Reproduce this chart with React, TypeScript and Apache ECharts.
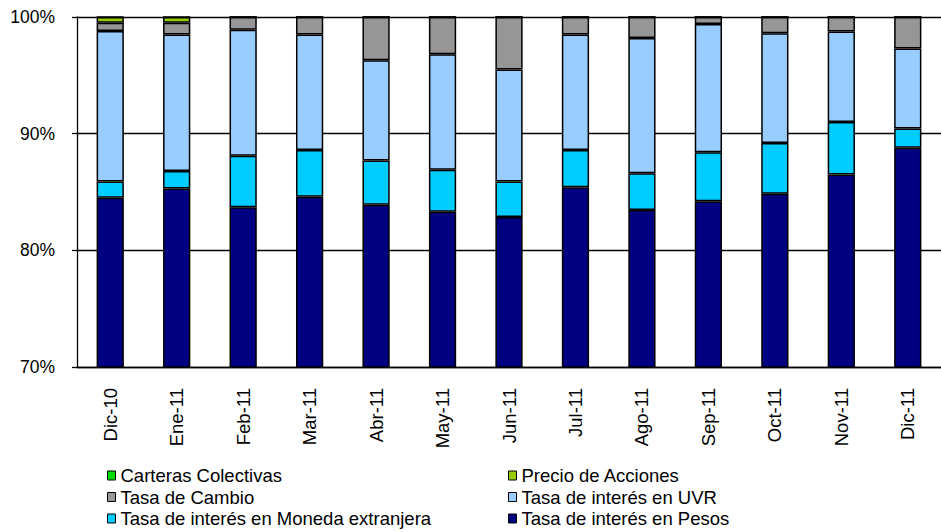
import React, { useEffect, useRef } from "react";
import * as echarts from "echarts";

const categories = ["Dic-10", "Ene-11", "Feb-11", "Mar-11", "Abr-11", "May-11", "Jun-11", "Jul-11", "Ago-11", "Sep-11", "Oct-11", "Nov-11", "Dic-11"];
const pesos = [84.5, 85.3, 83.7, 84.6, 83.9, 83.3, 82.85, 85.4, 83.45, 84.2, 84.85, 86.5, 88.8];
const monedaExt = [1.4, 1.5, 4.4, 4.0, 3.8, 3.6, 3.05, 3.2, 3.15, 4.2, 4.35, 4.5, 1.65];
const uvr = [12.9, 11.7, 10.8, 9.9, 8.6, 9.9, 9.6, 9.9, 11.6, 11.0, 9.4, 7.75, 6.85];
const cambio = [0.7, 1.0, 1.1, 1.5, 3.7, 3.2, 4.5, 1.5, 1.8, 0.6, 1.4, 1.25, 2.7];
const acciones = [0.5, 0.5, 0, 0, 0, 0, 0, 0, 0, 0, 0, 0, 0];
const carteras = [0, 0, 0, 0, 0, 0, 0, 0, 0, 0, 0, 0, 0];
const yTicks = [70, 80, 90, 100];

const FONT = "'Liberation Sans', Arial, sans-serif";

export default function App() {
  const ref = useRef<HTMLDivElement>(null);
  useEffect(() => {
    if (!ref.current) return;
    const chart = echarts.init(ref.current, undefined, { renderer: "svg" });
    const mk = (name: string, data: number[], color: string) => ({
      name,
      type: "bar",
      stack: "total",
      data,
      barWidth: "41%",
      itemStyle: { color, borderColor: "#000", borderWidth: 1.5 },
    });
    const legendItem = (name: string, left: number, top: number) => ({
      data: [name],
      left,
      top,
      itemWidth: 8,
      itemHeight: 9,
      icon: "rect",
      padding: 0,
      itemStyle: { borderColor: "#000", borderWidth: 1 },
      textStyle: { fontFamily: FONT, fontSize: 18.5, color: "#000" },
    });
    chart.setOption({
      animation: false,
      backgroundColor: "#fff",
      grid: { left: 77, top: 17, bottom: 165, right: -9, containLabel: false },
      legend: [
        legendItem("Carteras Colectivas", 107, 466),
        legendItem("Precio de Acciones", 508, 466),
        legendItem("Tasa de Cambio", 107, 487.5),
        legendItem("Tasa de interés en UVR", 508, 487.5),
        legendItem("Tasa de interés en Moneda extranjera", 107, 509),
        legendItem("Tasa de interés en Pesos", 508, 509),
      ],
      xAxis: {
        type: "category",
        data: categories,
        axisLine: { lineStyle: { color: "#000", width: 1.3 } },
        axisTick: { show: false },
        axisLabel: { rotate: 90, margin: 21, fontFamily: FONT, fontSize: 18.5, color: "#000" },
      },
      yAxis: {
        type: "value",
        min: yTicks[0],
        max: yTicks[yTicks.length - 1],
        interval: 10,
        axisLine: { show: true, lineStyle: { color: "#000", width: 1.3 } },
        axisTick: { show: true, length: 5, lineStyle: { color: "#000", width: 1.3 } },
        axisLabel: { formatter: "{value}%", margin: 22, fontFamily: FONT, fontSize: 17.5, color: "#000" },
        splitLine: { lineStyle: { color: "#000", width: 1.3 } },
      },
      series: [
        mk("Tasa de interés en Pesos", pesos, "#000080"),
        mk("Tasa de interés en Moneda extranjera", monedaExt, "#00CCFF"),
        mk("Tasa de interés en UVR", uvr, "#99CCFF"),
        mk("Tasa de Cambio", cambio, "#969696"),
        mk("Precio de Acciones", acciones, "#99CC00"),
        mk("Carteras Colectivas", carteras, "#00DD00"),
      ],
    });
    return () => chart.dispose();
  }, []);
  return <div ref={ref} style={{ position: "fixed", left: 0, top: 0, width: 941, height: 532 }} />;
}
